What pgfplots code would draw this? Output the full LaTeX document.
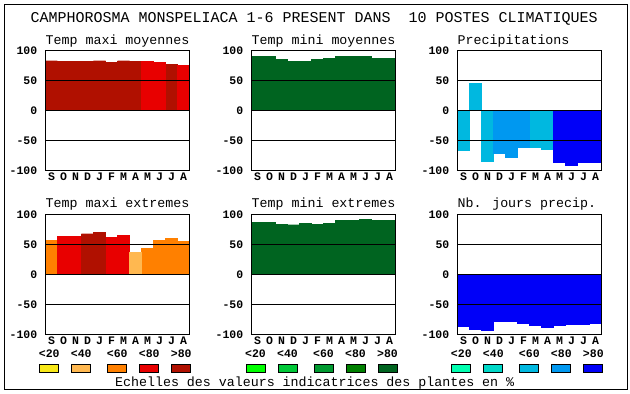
\documentclass[border=0pt]{standalone}
\usepackage{fontspec}
\setmainfont{Liberation Mono}
\usepackage{pgfplots}
\pgfplotsset{compat=1.18}
\definecolor{ra}{HTML}{F8E818}
\definecolor{rb}{HTML}{FFB850}
\definecolor{rc}{HTML}{FF8000}
\definecolor{rd}{HTML}{E80000}
\definecolor{re}{HTML}{B01000}
\definecolor{ga}{HTML}{00FF00}
\definecolor{gb}{HTML}{00C838}
\definecolor{gc}{HTML}{009A30}
\definecolor{gd}{HTML}{008000}
\definecolor{ge}{HTML}{006420}
\definecolor{ba}{HTML}{00FFB0}
\definecolor{bb}{HTML}{00D8C8}
\definecolor{bc}{HTML}{00B8E0}
\definecolor{bd}{HTML}{0098F0}
\definecolor{be}{HTML}{0000F8}
\newcommand{\tkfont}{\fontsize{11.5}{12}\selectfont\bfseries}
\newcommand{\subfont}{\fontsize{13.3}{14}\selectfont}
\pgfplotsset{
  panel/.style={scale only axis, width=144pt, height=120pt, anchor=south west,
    xmin=-0.5, xmax=11.5, ymin=-100, ymax=100,
    xtick={0,...,11}, xticklabels={S,O,N,D,J,F,M,A,M,J,J,A},
    ytick={-100,-50,0,50,100}, yticklabels={-100,-50,0,50,100},
    major tick length=0pt, tick style={draw=none},
    ymajorgrids, grid style={black, line width=1pt},
    axis line style={black, line width=1pt}, axis on top,
    xticklabel style={font=\tkfont, anchor=north, inner sep=0pt, yshift=-2pt},
    yticklabel style={font=\tkfont, anchor=east, inner sep=0pt, xshift=-8pt},
  },
  bx/.style={ybar, bar width=12pt, bar shift=0pt, fill=#1, draw=#1, line width=0.2pt},
}
\begin{document}
\begin{tikzpicture}[x=1pt,y=1pt]
\useasboundingbox (0,0) rectangle (630,394);
\draw[line width=1pt] (4.5,4.5) rectangle (627.5,389.5);
\node[anchor=base, inner sep=0pt, font=\fontsize{15}{16}\selectfont] at (314.2,371.3) {CAMPHOROSMA MONSPELIACA 1-6 PRESENT DANS~~10 POSTES CLIMATIQUES};
% Row 1
\begin{axis}[panel, at={(45.5pt,223.5pt)}]
\addplot[bx=re] coordinates {(0,83)(1,82)(2,82)(3,82)(4,83)(5,80)(6,83)(7,82)(10,77)};
\addplot[bx=rd] coordinates {(8,82)(9,80)(11,75)};
\end{axis}
\begin{axis}[panel, at={(251.5pt,223.5pt)}]
\addplot[bx=ge] coordinates {(0,90)(1,90)(2,85)(3,82)(4,82)(5,85)(6,87)(7,90)(8,90)(9,90)(10,87)(11,87)};
\end{axis}
\begin{axis}[panel, at={(457.5pt,223.5pt)}]
\addplot[bx=bc] coordinates {(0,-66)(1,45)(2,-84.5)(6,-61)(7,-64.5)};
\addplot[bx=bd] coordinates {(3,-71)(4,-78)(5,-61)};
\addplot[bx=be] coordinates {(8,-86)(9,-91)(10,-86)(11,-86)};
\end{axis}
% Row 2
\begin{axis}[panel, at={(45.5pt,59.5pt)}]
\addplot[bx=rc] coordinates {(0,57)(8,44)(9,57)(10,60.5)(11,55.5)};
\addplot[bx=rd] coordinates {(1,64)(2,64)(5,62)(6,65.5)};
\addplot[bx=re] coordinates {(3,68)(4,70.5)};
\addplot[bx=rb] coordinates {(7,37)};
\end{axis}
\begin{axis}[panel, at={(251.5pt,59.5pt)}]
\addplot[bx=ge] coordinates {(0,87)(1,87)(2,84)(3,83)(4,85)(5,84)(6,85)(7,90)(8,90)(9,92)(10,90)(11,90)};
\end{axis}
\begin{axis}[panel, at={(457.5pt,59.5pt)}]
\addplot[bx=be] coordinates {(0,-86)(1,-91)(2,-93)(3,-78)(4,-78)(5,-81)(6,-84.5)(7,-88)(8,-84.5)(9,-83)(10,-83)(11,-81)};
\end{axis}
% subtitles
\begin{scope}[every node/.style={anchor=base west, inner sep=0pt, font=\subfont}]
\node at (45.5,349.7) {Temp maxi moyennes};
\node at (251.5,349.7) {Temp mini moyennes};
\node at (457.5,349.7) {Precipitations};
\node at (45.5,186.7) {Temp maxi extremes};
\node at (251.5,186.7) {Temp mini extremes};
\node at (457.5,186.7) {Nb. jours precip.};
\end{scope}
% legends
\foreach \xo/\ca/\cb/\cc/\cd/\ce in {45.3/ra/rb/rc/rd/re, 251.5/ga/gb/gc/gd/ge, 457.3/ba/bb/bc/bd/be}{
  \foreach \off/\lab/\col in {0/{<20}/\ca, 32/{<40}/\cb, 68/{<60}/\cc, 100/{<80}/\cd, 132/{>80}/\ce}{
    \node[anchor=base, inner sep=0pt, font=\tkfont] at (\xo-6+\off+10,36) {\lab};
    \filldraw[fill=\col, draw=black, line width=1pt] (\xo-6+\off+0.5,21.5) rectangle (\xo-6+\off+19.5,29.5);
  }
}
\node[anchor=base, inner sep=0pt, font=\subfont] at (314.7,7.3) {Echelles des valeurs indicatrices des plantes en \%};
\end{tikzpicture}
\end{document}
